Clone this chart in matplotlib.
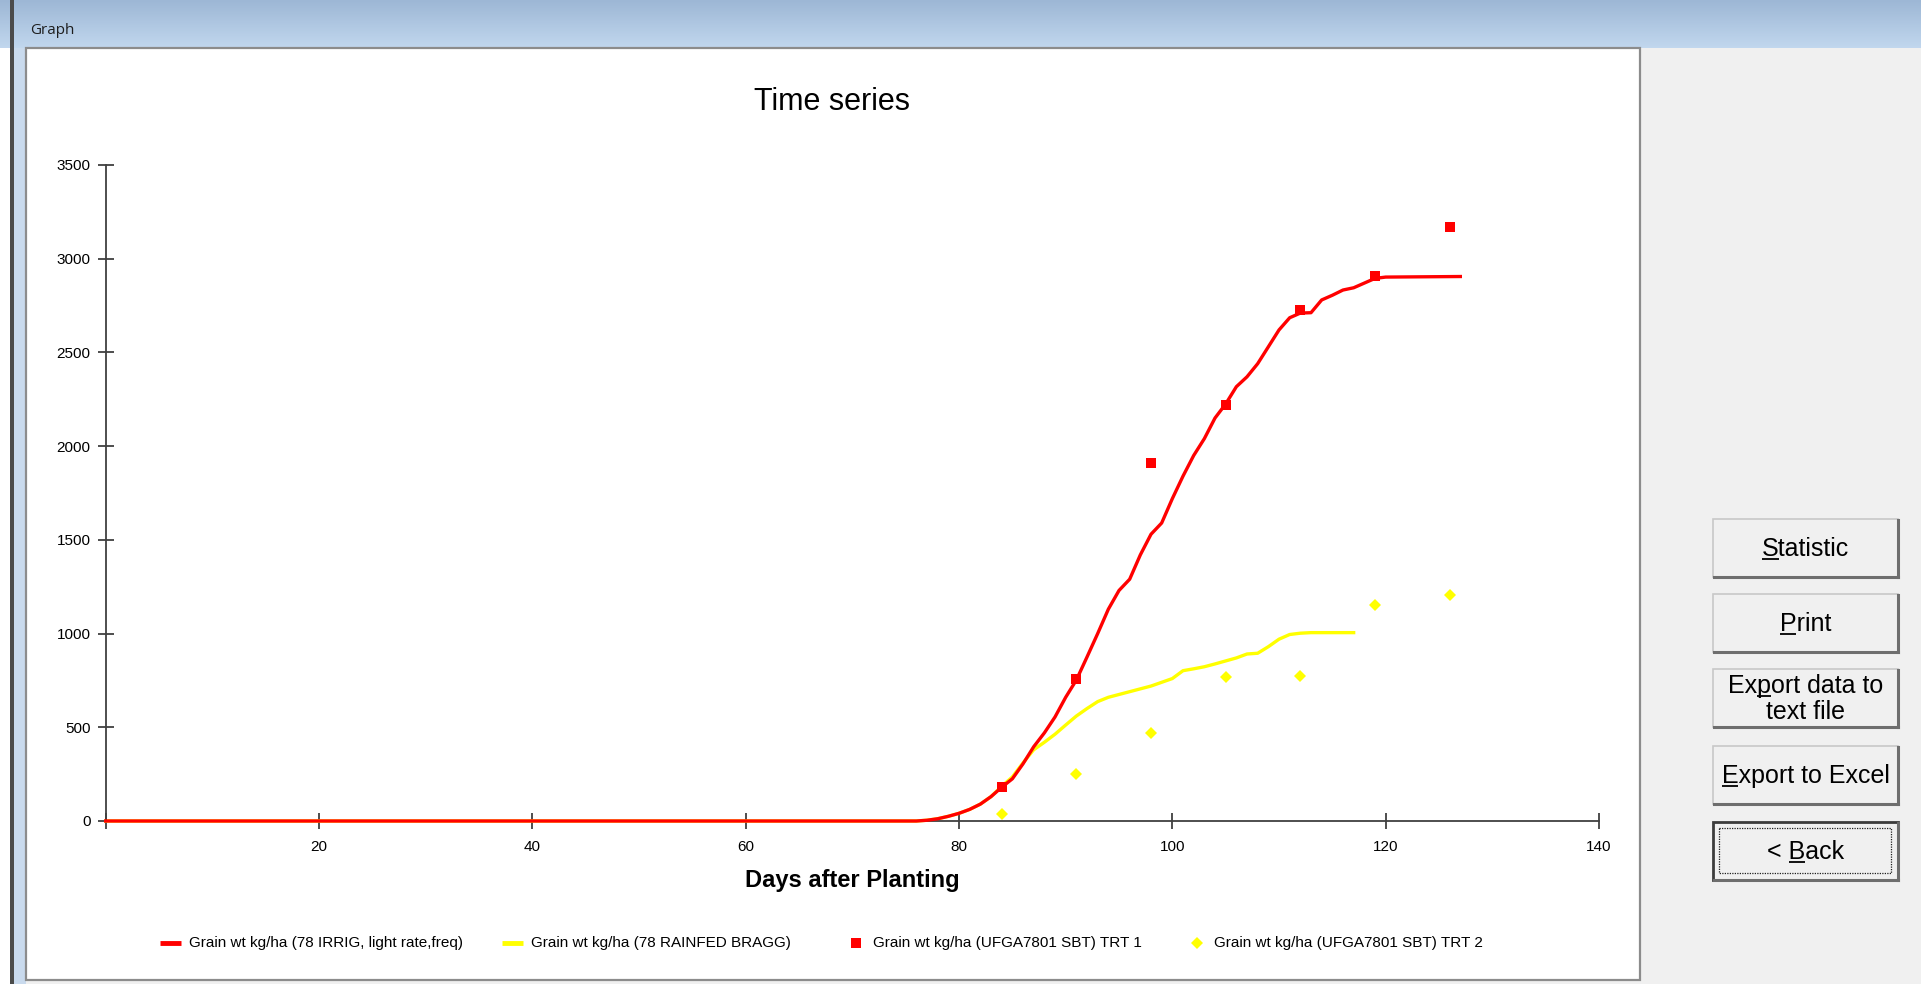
import numpy as np
import matplotlib
matplotlib.use('Agg')
import matplotlib.pyplot as plt
import matplotlib.colors as mcolors
from matplotlib.patches import Rectangle
from matplotlib.font_manager import FontProperties

plt.rcParams['font.family'] = ['Liberation Sans', 'DejaVu Sans']

# === data ===
days_irr = [0, 76, 77, 78, 79, 80, 81, 82, 83, 84, 85, 86, 87, 88, 89, 90,
            91, 92, 93, 94, 95, 96, 97, 98, 99, 100, 101, 102, 103, 104, 105,
            106, 107, 108, 109, 110, 111, 112, 113, 114, 115, 116, 117, 118,
            119, 120, 127]
gw_irr = [0, 0, 4, 12, 25, 41, 62, 90, 130, 180, 225, 305, 396, 470, 555, 660,
          752, 875, 1000, 1130, 1230, 1290, 1420, 1530, 1590, 1720, 1840, 1950,
          2040, 2150, 2225, 2317, 2370, 2440, 2530, 2620, 2685, 2710, 2712,
          2780, 2805, 2833, 2845, 2870, 2895, 2902, 2905]

days_rf = [0, 76, 77, 78, 79, 80, 81, 82, 83, 84, 85, 86, 87, 88, 89, 90,
           91, 92, 93, 94, 95, 96, 97, 98, 99, 100, 101, 102, 103, 104, 105,
           106, 107, 108, 109, 110, 111, 112, 113, 117]
gw_rf = [0, 0, 4, 12, 25, 41, 62, 90, 130, 185, 235, 310, 380, 420, 463, 512,
         560, 600, 637, 660, 675, 690, 705, 720, 740, 760, 802, 812, 823, 838,
         854, 870, 891, 895, 930, 970, 995, 1002, 1005, 1005]

obs_days = [84, 91, 98, 105, 112, 119, 126]
obs_trt1 = [180, 755, 1908, 2218, 2726, 2909, 3168]
obs_trt2 = [38, 251, 470, 770, 776, 1150, 1204]

legend_labels = ['Grain wt kg/ha (78 IRRIG, light rate,freq)',
                 'Grain wt kg/ha (78 RAINFED BRAGG)',
                 'Grain wt kg/ha (UFGA7801 SBT) TRT 1',
                 'Grain wt kg/ha (UFGA7801 SBT) TRT 2']

x_ticks = [0, 20, 40, 60, 80, 100, 120, 140]
x_ticklabels = ['', '20', '40', '60', '80', '100', '120', '140']
y_ticks = [0, 500, 1000, 1500, 2000, 2500, 3000, 3500]

button_labels = ['Statistic', 'Print', 'Export data to\ntext file',
                 'Export to Excel', '< Back']
button_mnemonic = [0, 0, 2, 0, 2]

RED = '#ff0000'
YEL = '#ffff00'
AXC = '#404040'

W, H = 1921, 984
fig = plt.figure(figsize=(W / 100, H / 100), dpi=100, facecolor='#f0f0f0')

# --- window chrome (pixel coords, y down) ---
bg = fig.add_axes([0, 0, 1, 1], zorder=0)
bg.axis('off')
g = np.linspace(0, 1, 48)[:, None, None]
c_top = np.array(mcolors.to_rgb('#9db7d5'))
c_bot = np.array(mcolors.to_rgb('#c1d7ee'))
bg.imshow(c_top * (1 - g) + c_bot * g, extent=[0, W, 48, 0], aspect='auto',
          zorder=0, interpolation='bilinear')
bg.set_xlim(0, W)
bg.set_ylim(H, 0)

bg.add_patch(Rectangle((0, 48), 10, H - 48, facecolor='#ffffff', edgecolor='none'))
bg.add_patch(Rectangle((10, 0), 4, H, facecolor='#4b4b4b', edgecolor='none'))
bg.add_patch(Rectangle((14, 48), 12, H - 48, facecolor='#c9daed', edgecolor='none'))
bg.add_patch(Rectangle((26, 48), 1614, 932, facecolor='white',
                       edgecolor='#8c8c8c', lw=1.6))
bg.text(30, 31, 'Graph', fontsize=11, family=['Open Sans', 'DejaVu Sans'],
        color='#1e1e1e', ha='left', va='center')

# --- main plot ---
px0, px1, py0, py1 = 105.7, 1599, 821, 165
ax = fig.add_axes([px0 / W, (H - py0) / H, (px1 - px0) / W, (py0 - py1) / H],
                  zorder=2)
ax.patch.set_alpha(0)
for s in ['top', 'right']:
    ax.spines[s].set_visible(False)
for s in ['left', 'bottom']:
    ax.spines[s].set_color(AXC)
    ax.spines[s].set_linewidth(1.3)

ax.plot(days_rf, gw_rf, color=YEL, lw=2.4, zorder=2, clip_on=False)
ax.plot(days_irr, gw_irr, color=RED, lw=2.4, zorder=3, clip_on=False)
ax.plot(obs_days, obs_trt1, 's', color=RED, ms=7.2, mew=0, zorder=4, clip_on=False)
ax.plot(obs_days, obs_trt2, 'D', color=YEL, ms=6, mew=0, zorder=4, clip_on=False)

ax.set_xlim(0, 140)
ax.set_ylim(0, 3500)
ax.set_xticks(x_ticks)
ax.set_xticklabels(x_ticklabels)
ax.set_yticks(y_ticks)
ax.tick_params(direction='inout', length=11, width=1.3, color=AXC,
               labelsize=11, labelcolor='#000000')
ax.tick_params(axis='x', pad=8)
ax.tick_params(axis='y', pad=5.5)

bg.text(832, 102, 'Time series', fontsize=22, ha='center', va='center')
bg.text(852, 880, 'Days after Planting', fontsize=17, weight='bold',
        ha='center', va='center')

# --- legend ---
ly = 943
bg.plot([160, 181], [ly, ly], color=RED, lw=3.5, solid_capstyle='butt')
bg.plot([502, 523], [ly, ly], color=YEL, lw=3.5, solid_capstyle='butt')
bg.plot([856], [ly], 's', color=RED, ms=7.2, mew=0)
bg.plot([1197], [ly], 'D', color=YEL, ms=6, mew=0)
for xt, lab in zip([189, 531, 873, 1214], legend_labels):
    bg.text(xt, ly, lab, fontsize=11, ha='left', va='center')

# --- buttons ---
renderer = fig.canvas.get_renderer()
bfp = FontProperties(family='Liberation Sans', size=18)


def text_w(s):
    w, h, d = renderer.get_text_width_height_descent(s, bfp, ismath=False)
    return w


btn_tops = [519, 594, 669, 746, 822]
bx, bw, bh = 1713, 185, 58
for i, (lab, k, top) in enumerate(zip(button_labels, button_mnemonic, btn_tops)):
    last = i == len(button_labels) - 1
    bg.add_patch(Rectangle((bx, top), bw, bh, facecolor='#f0f0f0',
                           edgecolor='#3c3c3c' if last else '#c8c8c8',
                           lw=2 if last else 1.2))
    bg.plot([bx + 1, bx + bw], [top + bh, top + bh], color='#6e6e6e', lw=2.2)
    bg.plot([bx + bw, bx + bw], [top + 1, top + bh], color='#6e6e6e', lw=2.2)
    if last:
        bg.add_patch(Rectangle((bx + 6, top + 6), bw - 13, bh - 13,
                               facecolor='none', edgecolor='#202020',
                               lw=0.9, ls=(0, (1, 1))))
    lines = lab.split('\n')
    cx = bx + bw / 2
    yc = top + bh / 2
    if len(lines) == 1:
        bases = [yc + 8]
    else:
        bases = [yc - 5, yc + 21]
    for j, (ln, yb) in enumerate(zip(lines, bases)):
        bg.text(cx, yb, ln, fontproperties=bfp, ha='center', va='baseline')
        if j == 0:
            left = cx - text_w(ln) / 2
            u1 = left + text_w(ln[:k + 1])
            u0 = u1 - text_w(ln[k])
            bg.plot([u0, u1], [yb + 3, yb + 3], color='black', lw=1.3,
                    solid_capstyle='butt')

fig.savefig('out.png', dpi=100, facecolor=fig.get_facecolor())
